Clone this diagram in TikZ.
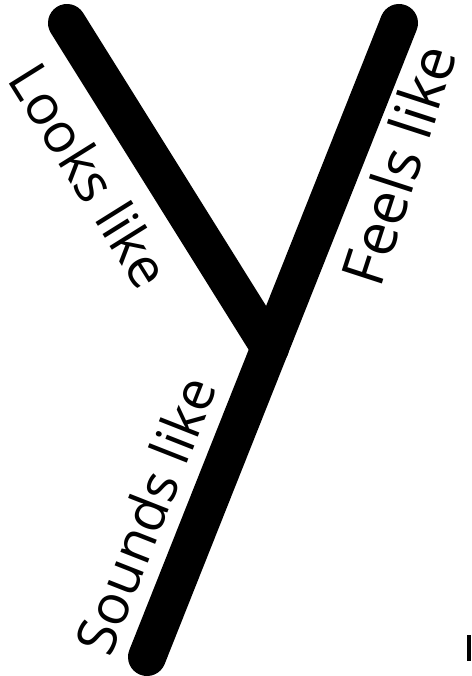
\documentclass[tikz,border=0pt]{standalone}
\usepackage{fontspec}
\setmainfont{Open Sans}
\begin{document}
\begin{tikzpicture}[x=1pt,y=-1pt,
  arm/.style={line width=38pt,line cap=round,black},
  lbl/.style={font=\fontsize{55}{58}\selectfont,inner sep=0pt,anchor=center}]
\useasboundingbox (0,0) rectangle (471,676);
\coordinate (L) at (67,23);
\coordinate (R) at (399,23);
\coordinate (B) at (147,657);
\coordinate (J) at (270,348);
\draw[arm] (L) -- (J);
\draw[arm] (R) -- (B);
\node[lbl,rotate=-58] (looks) at (90,175) {Looks like};
\node[lbl,rotate=72,font=\fontsize{59}{62}\selectfont] (feels) at (398,165) {Feels like};
\node[lbl,rotate=68.5] (sounds) at (145,515) {Sounds like};
\fill (467,635) rectangle (471,661);
\end{tikzpicture}
\end{document}
